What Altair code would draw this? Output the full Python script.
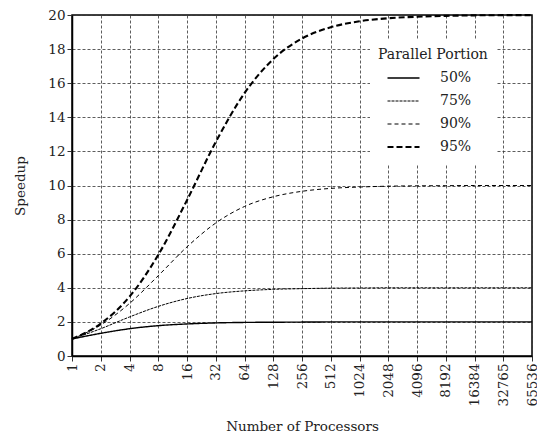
import altair as alt
import pandas as pd

processors = ["1", "2", "4", "8", "16", "32", "64", "128", "256", "512", "1024",
              "2048", "4096", "8192", "16384", "32765", "65536"]
series_names = ["50%", "75%", "90%", "95%"]
speedup_50 = [1.0, 1.33, 1.6, 1.78, 1.88, 1.94, 1.97, 1.98, 1.99, 2.0, 2.0, 2.0, 2.0, 2.0, 2.0, 2.0, 2.0]
speedup_75 = [1.0, 1.6, 2.29, 2.91, 3.37, 3.66, 3.82, 3.91, 3.95, 3.98, 3.99, 4.0, 4.0, 4.0, 4.0, 4.0, 4.0]
speedup_90 = [1.0, 1.82, 3.08, 4.71, 6.4, 7.8, 8.77, 9.34, 9.66, 9.83, 9.91, 9.96, 9.98, 9.99, 10.0, 10.0, 10.0]
speedup_95 = [1.0, 1.9, 3.48, 5.93, 9.14, 12.55, 15.42, 17.41, 18.62, 19.28, 19.63, 19.81, 19.9, 19.95, 19.98, 19.99, 19.99]

rows = []
for name, vals in zip(series_names, [speedup_50, speedup_75, speedup_90, speedup_95]):
    for p, v in zip(processors, vals):
        rows.append({"Processors": p, "Speedup": v, "Portion": name})
df = pd.DataFrame(rows)

FONT = "DejaVu Serif"

chart = alt.Chart(df).mark_line(color="#000", interpolate="monotone").encode(
    x=alt.X("Processors:O", sort=processors,
            scale=alt.Scale(type="point", padding=0),
            axis=alt.Axis(title="Number of Processors", labelAngle=270, labelAlign="right",
                          labelBaseline="middle", titlePadding=14)),
    y=alt.Y("Speedup:Q", scale=alt.Scale(domain=[0, 20], nice=False),
            axis=alt.Axis(values=list(range(0, 21, 2)), title="Speedup", titlePadding=20)),
    strokeDash=alt.StrokeDash("Portion:O",
                              scale=alt.Scale(domain=series_names,
                                              range=[[1, 0], [3, 1], [4, 3], [6, 3]]),
                              legend=alt.Legend(title="Parallel Portion")),
    strokeWidth=alt.StrokeWidth("Portion:O",
                                scale=alt.Scale(type="ordinal", domain=series_names,
                                                range=[1.4, 1.0, 1.0, 2.1]),
                                legend=alt.Legend(title="Parallel Portion")),
    detail="Portion:N",
).properties(
    width=460, height=341,
    autosize=alt.AutoSizeParams(type="none"),
    padding={"left": 64, "top": 7, "right": 5, "bottom": 80},
).configure_view(
    stroke="black", strokeWidth=1.5
).configure_axis(
    labelFont=FONT, titleFont=FONT, labelFontSize=13.5, titleFontSize=13.5,
    labelColor="#222", titleColor="#222", titleFontWeight="normal",
    grid=True, gridColor="#333", gridDash=[3, 2], gridWidth=0.8, gridOpacity=1,
    domainColor="black", domainWidth=1.5, tickColor="#333", tickSize=5,
    labelPadding=2,
).configure_legend(
    orient="none", legendX=298, legendY=25,
    titleFont=FONT, labelFont=FONT, titleFontSize=14, labelFontSize=14,
    titleFontWeight="normal", titleColor="#222", labelColor="#222",
    fillColor="white", padding=8, symbolType="stroke", symbolSize=1024,
    symbolOffset=8, symbolStrokeColor="#000", labelOffset=19, rowPadding=3,
    clipHeight=20, titlePadding=6, labelLimit=200,
)

chart.save("out.html", embed_options={"renderer": "svg", "actions": False})
